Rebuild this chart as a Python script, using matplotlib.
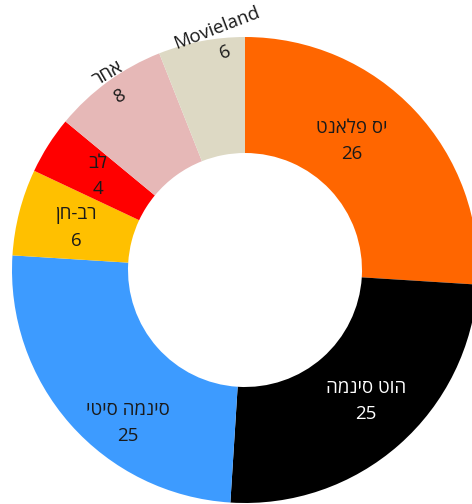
import matplotlib
matplotlib.use("Agg")
import matplotlib.pyplot as plt

categories = ["יס פלאנט", "הוט סינמה", "סינמה סיטי", "רב-חן", "לב", "אחר", "Movieland"]
values = [26, 25, 25, 6, 4, 8, 6]
colors = ["#FF6600", "#000000", "#3D9BFF", "#FFC000", "#FF0000", "#E6B8B7", "#DDD9C4"]
text_colors = ["#1a1a1a", "#ffffff", "#1a1a1a", "#1a1a1a", "#1a1a1a", "#1a1a1a", "#1a1a1a"]

# label layout (pixel coords from top-left) and rotation
label_pos = [(352, 141), (366, 401), (128, 423), (76, 228), (98, 176), (114, 85), (221, 40)]
label_rot = [0, 0, 0, 0, 0, 30, 21]

W, H = 472, 504
fig = plt.figure(figsize=(W / 100, H / 100), dpi=100)
ax = fig.add_axes([0, 0, 1, 1])

cx, cy = 245, H - 270
R = 233
ax.pie(values, colors=colors, startangle=90, counterclock=False,
       radius=R, center=(cx, cy), wedgeprops=dict(width=116, linewidth=0))
ax.set_xlim(0, W)
ax.set_ylim(0, H)
ax.set_aspect("equal")
ax.axis("off")

def visual(s):
    # matplotlib has no bidi support: put Hebrew in visual (left-to-right) order
    if any('\u0590' <= ch <= '\u05FF' for ch in s):
        return s[::-1]
    return s

for cat, val, tc, (x, y), rot in zip(categories, values, text_colors, label_pos, label_rot):
    ax.text(x, H - y, f"{visual(cat)}\n{val}", ha="center", va="center", rotation=rot,
            rotation_mode="anchor", multialignment="center", linespacing=1.55,
            fontsize=13.5, color=tc, family=["Open Sans", "DejaVu Sans"])

fig.savefig("out.png", dpi=100)
